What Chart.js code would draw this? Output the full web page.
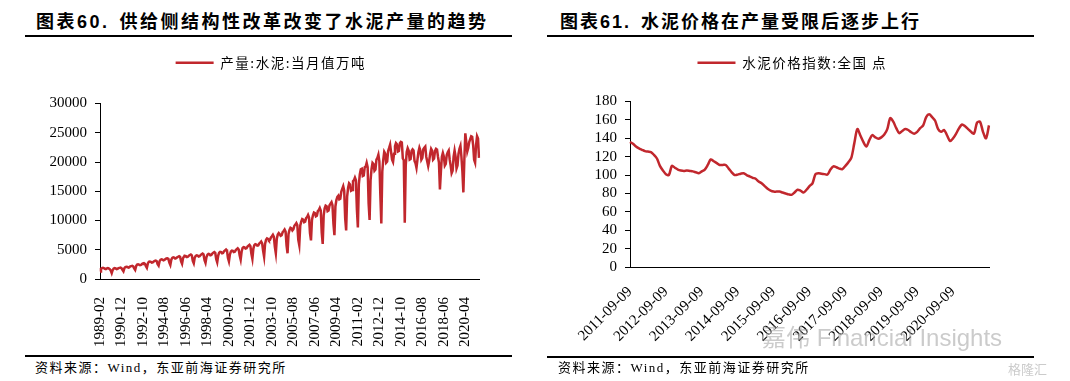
<!DOCTYPE html>
<html>
<head>
<meta charset="utf-8">
<script src="https://cdn.jsdelivr.net/npm/chart.js@4.4.1/dist/chart.umd.min.js"></script>
<style>
    body { margin: 0; width: 1070px; height: 381px; background: #fff; position: relative; overflow: hidden; }
    .abs { position: absolute; }
    .title { font-family: "Liberation Sans", "Noto Sans CJK SC", sans-serif; font-weight: bold; font-size: 18px; letter-spacing: 2.5px; color: #000; white-space: nowrap; line-height: 24px; }
    .title .num { margin-right: 10px; }
    .rule { height: 2px; background: #000; }
    .source { font-family: "Liberation Serif", "Noto Sans CJK SC", serif; font-size: 13px; letter-spacing: 1.5px; color: #000; white-space: nowrap; line-height: 18px; }
    .mark { font-family: "Liberation Sans", "Noto Sans CJK SC", sans-serif; color: rgba(160,160,160,0.55); white-space: nowrap; }
</style>
</head>
<body>

<div class="abs title" style="left:36px; top:10px;"><span class="num">图表60.</span>供给侧结构性改革改变了水泥产量的趋势</div>
<div class="abs rule" style="left:25px; top:35px; width:487px;"></div>
<canvas id="prodChart" class="abs" width="535" height="315" style="left:0; top:40px;"></canvas>
<div class="abs rule" style="left:25px; top:355px; width:487px;"></div>
<div class="abs source" style="left:35px; top:359px;">资料来源：Wind，东亚前海证券研究所</div>

<div class="abs title" style="left:560px; top:10px; letter-spacing:2px;"><span class="num">图表61.</span>水泥价格在产量受限后逐步上行</div>
<div class="abs rule" style="left:547px; top:35px; width:487px;"></div>
<canvas id="priceChart" class="abs" width="535" height="317" style="left:535px; top:40px;"></canvas>
<div class="abs rule" style="left:547px; top:356px; width:487px;"></div>
<div class="abs source" style="left:558px; top:359px;">资料来源：Wind，东亚前海证券研究所</div>

<div class="abs mark" style="left:762px; top:318px; font-size:24px;">嘉伟 Financial Insights</div>
<div class="abs mark" style="left:1008px; top:359px; font-size:13px;">格隆汇</div>

<script>
// --- DATA: 水泥产量 当月值 (万吨), monthly from 1989-02 ---
const prodStart = [1989, 2];
const prodValues = [
    1300, 1750, 1850, 1900, 1850, 1750, 1700, 1800, 1850, 1800, 1700,
    1450, 1000, 1550, 1800, 1850, 1800, 1700, 1750, 1850, 1900, 1950, 1850,
    1550, 1300, 1850, 2050, 2100, 2050, 1950, 2000, 2150, 2200, 2250, 2150,
    1800, 1550, 2200, 2450, 2500, 2450, 2350, 2400, 2550, 2650, 2700, 2600,
    2200, 1900, 2650, 2950, 3000, 2950, 2800, 2850, 3000, 3100, 3150, 3050,
    2550, 2300, 3050, 3300, 3350, 3300, 3200, 3250, 3400, 3500, 3550, 3450,
    2800, 2400, 3300, 3600, 3700, 3650, 3500, 3550, 3700, 3800, 3900, 3800,
    3000, 2600, 3550, 3850, 3950, 3900, 3750, 3800, 4000, 4100, 4200, 4050,
    3100, 2700, 3650, 3950, 4050, 4000, 3850, 3900, 4100, 4250, 4350, 4200,
    3200, 2750, 3750, 4150, 4300, 4250, 4050, 4100, 4350, 4500, 4600, 4450,
    3400, 2850, 4000, 4500, 4650, 4600, 4400, 4450, 4750, 4900, 5050, 4850,
    3600, 3000, 4200, 4700, 4850, 4800, 4600, 4650, 4950, 5100, 5250, 5050,
    4000, 3300, 4700, 5300, 5450, 5400, 5200, 5250, 5550, 5700, 5850, 5600,
    4300, 3450, 5200, 5800, 5950, 5900, 5700, 5750, 6050, 6200, 6400, 6100,
    4800, 3800, 6000, 6700, 6950, 6850, 6600, 6700, 7100, 7300, 7550, 7200,
    5500, 4400, 6900, 7600, 7850, 7650, 7400, 7500, 8000, 8200, 8450, 8100,
    5700, 4400, 7700, 8400, 8750, 8650, 8300, 8500, 9100, 9300, 9550, 9200,
    6700, 5800, 9100, 9800, 10250, 10150, 9700, 9800, 10400, 10600, 10950, 10500,
    7800, 6600, 10100, 10900, 11350, 11250, 10700, 10800, 11600, 11800, 12150, 11700,
    7900, 6000, 10900, 12100, 12550, 12450, 11600, 11700, 12600, 12900, 13150, 12600,
    9400, 7500, 12400, 13500, 14050, 14250, 13600, 13700, 14900, 15400, 15850, 15100,
    10400, 8300, 14100, 15600, 16350, 16150, 15100, 15200, 16700, 16900, 17350, 16900,
    11900, 8800, 16200, 17900, 18750, 18850, 17600, 17700, 19100, 19200, 19850, 19100,
    12900, 10100, 16900, 18800, 19850, 19650, 18500, 18700, 20400, 20700, 21250, 20100,
    14400, 9500, 18400, 20400, 21750, 21450, 19900, 20100, 21900, 22400, 22950, 21700,
    20400, 20000, 21400, 22700, 23250, 23050, 21800, 21900, 23200, 23450, 23350, 20600,
    20300, 9600, 19400, 21700, 22350, 21950, 20400, 20500, 21900, 22150, 21950, 20200,
    19800, 19000, 20400, 21700, 22450, 21950, 20400, 20700, 22200, 22450, 22650, 20900,
    20100, 19300, 20200, 21400, 22250, 21950, 20400, 20600, 21900, 22250, 22150, 20900,
    19900, 15300, 18400, 20900, 21550, 20950, 19400, 19700, 21200, 21650, 21950, 20400,
    19400, 18100, 18500, 20900, 21950, 20950, 18900, 19400, 21400, 22250, 22750, 20900,
    18400, 14800, 20400, 24900, 23400, 21800, 22400, 23400, 23900, 24400, 24300, 22900,
    20400, 19900, 22900, 24400, 24000, 20700
];
const prodTickLabels = [
    '1989-02', '1990-12', '1992-10', '1994-08', '1996-06', '1998-04', '2000-02', '2001-12', '2003-10',
    '2005-08', '2007-06', '2009-04', '2011-02', '2012-12', '2014-10', '2016-08', '2018-06', '2020-04'
];
const prodTickEvery = 22;

// --- DATA: 水泥价格指数 全国 (点), monthly from 2011-09 ---
const priceStart = [2011, 9];
const priceValues = [
    136, 134, 131, 129, 127.5, 126, 125.5, 125, 122, 118, 110, 105,
    101, 100, 110, 108, 106, 105, 104.5, 105, 104.5, 104, 103, 102,
    104, 106, 111, 117, 115, 113, 111, 111, 111, 107, 103, 100,
    100.5, 101.5, 102, 100, 98.5, 97, 96, 93, 91, 88, 85, 83,
    82, 82, 82, 81, 80, 79, 78.5, 81, 84, 83, 81, 84,
    88, 91, 101, 102, 101.5, 101, 100.5, 106, 109.5, 108.5, 107, 106.5,
    110, 114, 119, 135, 150, 143, 136, 131, 138, 143.5, 141, 139.5,
    141, 144, 150, 162, 158, 151, 145.5, 148, 150, 149, 146.5, 145,
    147, 151, 154, 163, 166, 163, 159, 150, 147, 149, 143, 137,
    140, 145, 151, 155, 153, 150, 147, 145, 157, 158, 147, 140,
    154
];
const priceTickLabels = [
    '2011-09-09', '2012-09-09', '2013-09-09', '2014-09-09', '2015-09-09',
    '2016-09-09', '2017-09-09', '2018-09-09', '2019-09-09', '2020-09-09'
];
const priceTickEvery = 12;

const RED = '#C1272D';

// month categories for the category axis
function monthLabels(start, count) {
    const out = [];
    let y = start[0], m = start[1];
    for (let i = 0; i < count; i++) {
        out.push(y + '-' + String(m).padStart(2, '0'));
        m++;
        if (m > 12) { m = 1; y++; }
    }
    return out;
}

// nudge the legend (the report centres it over the plot, not the canvas) and space its text
const legendPlacer = {
    id: 'legendPlacer',
    afterLayout(chart, args, o) {
        const lg = chart.legend;
        if (!lg) return;
        lg.left += o.dx; lg.right += o.dx;
        lg.top += o.dy; lg.bottom += o.dy;
        if (!lg._spaced) {
            const orig = lg.draw;
            lg.draw = function () {
                const c = this.ctx;
                c.save();
                c.letterSpacing = o.spacing;
                orig.apply(this, arguments);
                c.restore();
            };
            lg._spaced = true;
        }
    }
};

// --- CHART LOGIC ---
function makeConfig(opt) {
    const tickFont = { family: 'Liberation Serif', size: 15 };
    return {
        type: 'line',
        data: {
            labels: opt.labels,
            datasets: [{
                label: opt.name,
                data: opt.values,
                borderColor: RED,
                backgroundColor: RED,
                borderWidth: 2.5,
                pointRadius: 0,
                tension: opt.tension,
                fill: false
            }]
        },
        plugins: [legendPlacer],
        options: {
            responsive: false,
            animation: false,
            devicePixelRatio: 1,
            layout: { padding: opt.padding },
            plugins: {
                tooltip: { enabled: false },
                legendPlacer: opt.legendShift,
                legend: {
                    display: true,
                    position: 'top',
                    labels: {
                        usePointStyle: true,
                        pointStyle: 'line',
                        pointStyleWidth: 38,
                        color: '#000',
                        padding: 12,
                        font: { family: 'Noto Sans CJK SC', size: 13.5 }
                    }
                }
            },
            scales: {
                x: {
                    grid: { display: false },
                    border: { display: true, color: '#000', width: 1 },
                    ticks: {
                        autoSkip: false,
                        maxRotation: opt.rotation,
                        minRotation: opt.rotation,
                        padding: opt.xPad,
                        color: '#000',
                        font: tickFont,
                        callback: (v, i) => (i % opt.every === 0 ? opt.tickLabels[i / opt.every] : null)
                    },
                    afterFit: (s) => { s.height = opt.xHeight; }
                },
                y: {
                    min: 0,
                    max: opt.yMax,
                    grid: { drawOnChartArea: false, drawTicks: true, tickLength: 5, color: '#000' },
                    border: { display: true, color: '#000', width: 1 },
                    ticks: {
                        autoSkip: false,
                        stepSize: opt.yStep,
                        padding: 8,
                        color: '#000',
                        font: tickFont,
                        callback: (v) => String(v)
                    },
                    afterFit: (s) => { s.width = opt.yWidth; }
                }
            }
        }
    };
}

function initCharts() {
    new Chart(document.getElementById('prodChart'), makeConfig({
        labels: monthLabels(prodStart, prodValues.length),
        values: prodValues,
        name: '产量:水泥:当月值万吨',
        tickLabels: prodTickLabels,
        every: prodTickEvery,
        rotation: 90,
        xPad: 10,
        xHeight: 76,
        yWidth: 100,
        yMax: 30000,
        yStep: 5000,
        tension: 0,
        padding: { left: 0, right: 56, top: 28, bottom: 0 },
        legendShift: { dx: 23, dy: -24, spacing: '1.5px' }
    }));

    new Chart(document.getElementById('priceChart'), makeConfig({
        labels: monthLabels(priceStart, priceValues.length),
        values: priceValues,
        name: '水泥价格指数:全国 点',
        tickLabels: priceTickLabels,
        every: priceTickEvery,
        rotation: 45,
        xPad: 8,
        xHeight: 90,
        yWidth: 95,
        yMax: 180,
        yStep: 20,
        tension: 0.3,
        padding: { left: 0, right: 81, top: 26, bottom: 0 },
        legendShift: { dx: 22, dy: -22, spacing: '1.5px' }
    }));
}

window.onload = initCharts;
</script>
</body>
</html>
